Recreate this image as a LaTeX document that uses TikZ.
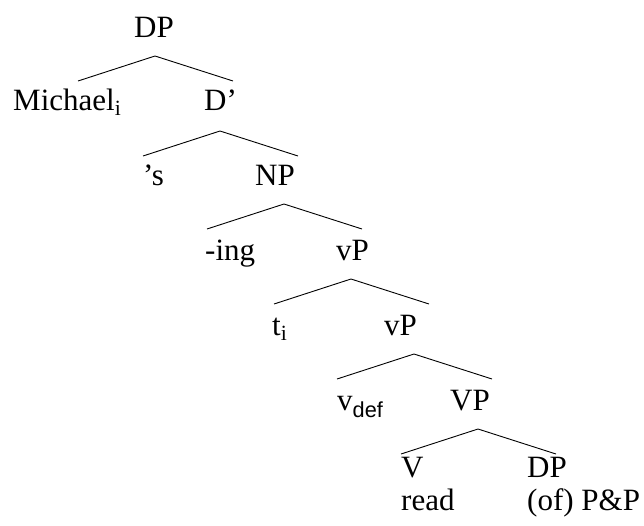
\documentclass[tikz,border=0pt]{standalone}
\usepackage{fontspec}
\setmainfont{Liberation Serif}
\newfontfamily\subsans{Liberation Sans}
\usetikzlibrary{calc}

\tikzset{
	lbl/.style = {anchor=base west, inner sep=0pt, font=\fontsize{31}{33}\selectfont},
	branch/.style = {line width=0.9pt}
}

\begin{document}
\begin{tikzpicture}[x=1pt, y=-1pt]
	\useasboundingbox (0,0) rectangle (644,525);
	% labels, row by row
	\node[lbl, anchor=base] (dp) at (154,37) {DP};
	\node[lbl] (michael) at (13,110) {Michael\textsubscript{i}};
	\node[lbl] (dbar) at (204,110) {D’};
	\node[lbl] (poss) at (143,185) {’s};
	\node[lbl] (np) at (255,185) {NP};
	\node[lbl] (ing) at (205,260) {-ing};
	\node[lbl] (vp1) at (336,260) {vP};
	\node[lbl] (trace) at (272,335) {t\textsubscript{i}};
	\node[lbl] (vp2) at (384,335) {vP};
	\node[lbl] (vdef) at (337,410) {v\textsubscript{\subsans def}};
	\node[lbl] (bigvp) at (450,410) {VP};
	\node[lbl] (verb) at (401,477) {V};
	\node[lbl] (obj) at (527,477) {DP};
	\node[lbl] (read) at (401,510) {read};
	\node[lbl] (pp) at (527,510) {(of) P\&P};
	% branches
	\foreach \i/\x/\y in {1/155/56, 2/220/131, 3/284/204, 4/351/279, 5/414/354, 6/478/429} {
		\coordinate (top\i) at (\x,\y);
		\coordinate (left\i) at ($(top\i)+(-77,25)$);
		\coordinate (right\i) at ($(top\i)+(78,25)$);
		\draw[branch] (left\i) -- (top\i) -- (right\i);
	}
\end{tikzpicture}
\end{document}
